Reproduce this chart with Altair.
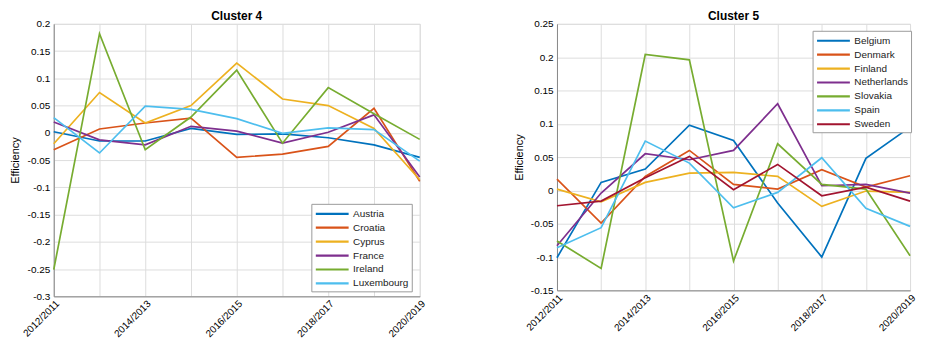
import altair as alt
import pandas as pd

years = ["2012/2011", "2013/2012", "2014/2013", "2015/2014", "2016/2015",
         "2017/2016", "2018/2017", "2019/2018", "2020/2019"]

c4_countries = ["Austria", "Croatia", "Cyprus", "France", "Ireland", "Luxembourg"]
austria    = [0.002, -0.015, -0.015, 0.008, -0.003, -0.002, -0.009, -0.022, -0.045]
croatia    = [-0.031, 0.007, 0.018, 0.027, -0.045, -0.039, -0.025, 0.045, -0.089]
cyprus     = [-0.020, 0.074, 0.018, 0.050, 0.128, 0.062, 0.050, 0.008, -0.086]
france     = [0.020, -0.013, -0.022, 0.012, 0.003, -0.019, 0.001, 0.033, -0.081]
ireland    = [-0.251, 0.182, -0.031, 0.029, 0.115, -0.019, 0.083, 0.035, -0.012]
luxembourg = [0.028, -0.037, 0.049, 0.043, 0.026, -0.001, 0.009, 0.006, -0.052]
c4_values = [austria, croatia, cyprus, france, ireland, luxembourg]

c5_countries = ["Belgium", "Denmark", "Finland", "Netherlands", "Slovakia", "Spain", "Sweden"]
belgium     = [-0.101, 0.012, 0.032, 0.098, 0.075, -0.019, -0.100, 0.048, 0.095]
denmark     = [0.017, -0.049, 0.021, 0.060, 0.009, 0.002, 0.031, 0.005, 0.022]
finland     = [0.002, -0.017, 0.012, 0.026, 0.027, 0.021, -0.024, -0.001, -0.003]
netherlands = [-0.083, -0.004, 0.055, 0.046, 0.060, 0.130, 0.007, 0.009, -0.004]
slovakia    = [-0.076, -0.117, 0.204, 0.196, -0.106, 0.070, 0.009, 0.002, -0.098]
spain       = [-0.086, -0.056, 0.074, 0.041, -0.026, -0.003, 0.049, -0.027, -0.054]
sweden      = [-0.023, -0.016, 0.019, 0.051, 0.001, 0.039, -0.008, 0.005, -0.016]
c5_values = [belgium, denmark, finland, netherlands, slovakia, spain, sweden]

matlab_colors = ["#0072BD", "#D95319", "#EDB120", "#7E2F8E", "#77AC30", "#4DBEEE", "#A2142F"]

y4_ticks = [-0.3, -0.25, -0.2, -0.15, -0.1, -0.05, 0, 0.05, 0.1, 0.15, 0.2]
y5_ticks = [-0.15, -0.1, -0.05, 0, 0.05, 0.1, 0.15, 0.2, 0.25]

FONT = "Liberation Sans"


def long_df(countries, values):
    rows = []
    for c, vals in zip(countries, values):
        for i, v in enumerate(vals):
            rows.append({"idx": i, "country": c, "value": v})
    return pd.DataFrame(rows)


years_js = "[" + ",".join("'" + y + "'" for y in years) + "]"
x_label_expr = f"datum.value % 2 == 0 ? {years_js}[datum.value] : ''"
y_label_expr = "replace(format(datum.value, '~g'), '\u2212', '-')"


def panel(title, countries, values, yticks, w, h, lx, ly, title_pad):
    df = long_df(countries, values)
    return alt.Chart(df, title=alt.Title(title, fontSize=12, fontWeight="bold",
                                          font=FONT, color="#000", offset=-4)).mark_line(
        strokeWidth=1.7
    ).encode(
        x=alt.X("idx:Q",
                scale=alt.Scale(domain=[0, len(years) - 1], nice=False, zero=False),
                axis=alt.Axis(values=list(range(len(years))), labelExpr=x_label_expr,
                              labelAngle=-45, title=None, grid=True, ticks=False,
                              labelPadding=2)),
        y=alt.Y("value:Q",
                scale=alt.Scale(domain=[yticks[0], yticks[-1]], nice=False, zero=False),
                axis=alt.Axis(values=yticks, labelExpr=y_label_expr, title="Efficiency",
                              titleFontWeight="normal", grid=True, ticks=False,
                              labelPadding=4, titlePadding=title_pad)),
        color=alt.Color("country:N",
                        scale=alt.Scale(domain=countries, range=matlab_colors[:len(countries)]),
                        legend=alt.Legend(title=None, orient="none", legendX=lx, legendY=ly,
                                          symbolType="M-3,0H3", symbolSize=121,
                                          symbolStrokeWidth=2.2, symbolOffset=11,
                                          labelOffset=14, rowPadding=2,
                                          strokeColor="#9a9a9a", fillColor="white",
                                          padding=3, labelFont=FONT, labelFontSize=10,
                                          labelColor="#222")),
        order=alt.Order("idx:Q"),
    ).properties(width=w, height=h)


p4 = panel("Cluster 4", c4_countries, c4_values, y4_ticks, 368, 274, 259, 181, 7)
p5 = panel("Cluster 5", c5_countries, c5_values, y5_ticks, 355, 268, 257, 7, 6)

chart = alt.hconcat(p4, p5, spacing=85).resolve_scale(
    color="independent", x="independent", y="independent"
).resolve_legend(color="independent").configure_view(
    stroke="#8a8a8a", strokeWidth=1
).configure_axis(
    labelFont=FONT, titleFont=FONT, labelFontSize=11, titleFontSize=11,
    labelColor="#333", titleColor="#333",
    gridColor="#e3e3e3", domainColor="#8a8a8a"
).configure(background="white", padding=0)

chart.save("out.html", embed_options={"renderer": "svg", "actions": False})
